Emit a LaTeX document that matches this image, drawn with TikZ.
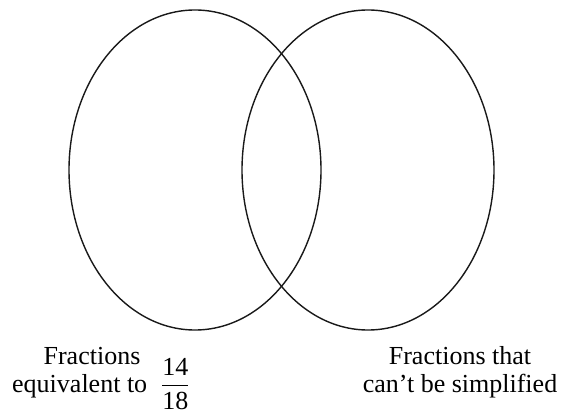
\documentclass[tikz,border=0pt]{standalone}
\usepackage{amsmath}
\usepackage{fontspec}
\setmainfont{Liberation Serif}
\begin{document}
\begin{tikzpicture}[x=1pt,y=-1pt,
  venn/.style={draw=black!90,line width=1.4pt},
  lbl/.style={inner sep=0pt,font=\rmfamily\fontsize{26}{29}\selectfont}]
\useasboundingbox (0,0) rectangle (562,414);
\draw[venn] (195,170) ellipse [x radius=126, y radius=160];
\draw[venn] (368,170) ellipse [x radius=126, y radius=160];
\node[lbl,anchor=base] (l1) at (92,364) {Fractions};
\node[lbl,anchor=base west] (l2) at (12,392) {equivalent to\hspace{14pt}\smash{$\dfrac{\text{14}}{\text{18}}$}};
\node[lbl,anchor=base] (r1) at (460,364) {Fractions that};
\node[lbl,anchor=base] (r2) at (460,392) {can’t be simplified};
\end{tikzpicture}
\end{document}
